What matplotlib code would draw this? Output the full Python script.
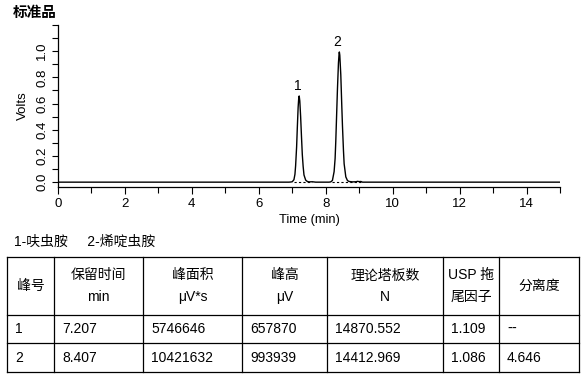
import matplotlib
matplotlib.use("Agg")
import matplotlib.pyplot as plt
from matplotlib.ticker import MultipleLocator

plt.rcParams["font.family"] = ["Liberation Sans", "Noto Sans CJK SC"]

# chromatogram trace (min, V)
time_min = [0.0, 6.9, 6.95, 7.0, 7.05, 7.08, 7.1, 7.13, 7.15, 7.175, 7.19, 7.207,
            7.225, 7.25, 7.275, 7.3, 7.325, 7.35, 7.4, 7.45, 7.5, 7.6, 7.7,
            8.1, 8.15, 8.2, 8.25, 8.28, 8.3, 8.33, 8.35, 8.38, 8.4, 8.407, 8.42,
            8.45, 8.48, 8.5, 8.53, 8.55, 8.6, 8.65, 8.7, 8.8, 8.9, 8.95, 9.0,
            9.05, 9.1, 15.0]
volts = [0.0, 0.0, 0.001, 0.003, 0.019, 0.06, 0.125, 0.27, 0.41, 0.57, 0.63, 0.658,
         0.62, 0.50, 0.35, 0.21, 0.12, 0.055, 0.016, 0.005, 0.002, 0.003, 0.0,
         0.0, 0.002, 0.013, 0.08, 0.18, 0.31, 0.55, 0.71, 0.91, 0.985, 0.994, 0.97,
         0.82, 0.58, 0.43, 0.24, 0.14, 0.04, 0.012, 0.005, 0.002, 0.003, 0.006, 0.004,
         0.005, 0.0, 0.0]

# integration baselines (min)
baseline_segments = [(7.05, 7.58), (8.18, 9.07)]

peak_labels = ["1", "2"]
peak_times = [7.207, 8.407]
peak_heights = [0.658, 0.994]

compounds = "1-呋虫胺     2-烯啶虫胺"

headers = ["峰号", "保留时间\nmin", "峰面积\nμV*s", "峰高\nμV",
           "理论塔板数\nN", "USP 拖\n尾因子", "分离度"]
rows = [
    ["1", "7.207", "5746646", "657870", "14870.552", "1.109", "--"],
    ["2", "8.407", "10421632", "993939", "14412.969", "1.086", "4.646"],
]

W, H = 588, 380
fig = plt.figure(figsize=(W / 100, H / 100), dpi=100)

# ---- chromatogram ----
ax = fig.add_axes([58 / W, (H - 187) / H, (560 - 58) / W, (187 - 25) / H])
ax.plot(time_min, volts, color="black", lw=1.0)
for x0, x1 in baseline_segments:
    ax.plot([x0, x1], [0.0, 0.0], color="black", lw=0.8, ls=(0, (2, 2)))
for lab, t, h in zip(peak_labels, peak_times, peak_heights):
    ax.text(t - 0.05, h + 0.025, lab, ha="center", va="bottom", fontsize=10)

ax.set_xlim(0, 15)
ax.set_ylim(-0.037, 1.2)
for s in ["top", "right"]:
    ax.spines[s].set_visible(False)
ax.spines["left"].set_linewidth(0.9)
ax.spines["bottom"].set_linewidth(0.9)
ax.xaxis.set_major_locator(MultipleLocator(2))
ax.xaxis.set_minor_locator(MultipleLocator(1))
ax.yaxis.set_minor_locator(MultipleLocator(0.1))
ax.set_yticks([0.0, 0.2, 0.4, 0.6, 0.8, 1.0])
ax.set_yticklabels(["0.0", "0.2", "0.4", "0.6", "0.8", "1.0"], rotation=90, va="center")
ax.tick_params(axis="both", which="both", direction="out", width=0.8, labelsize=9.5)
ax.tick_params(axis="x", which="major", length=5, pad=3)
ax.tick_params(axis="x", which="minor", length=4)
ax.tick_params(axis="y", which="both", length=4, pad=3)
ax.set_xlabel("Time (min)", fontsize=9.3, labelpad=3)
ax.set_ylabel("Volts", fontsize=9.5, labelpad=5)

fig.text(13 / W, 1 - 13 / H, "标准品", fontsize=10.5, fontweight="bold", va="center")
fig.text(14 / W, 1 - 242 / H, compounds, fontsize=10, va="center")

# ---- table ----
col_edges = [7, 54, 143, 242, 327, 443, 499, 579]
row_edges = [257, 315, 343, 372]
tab = fig.add_axes([0, 0, 1, 1])
tab.set_xlim(0, W)
tab.set_ylim(H, 0)
tab.axis("off")
for x in col_edges:
    tab.plot([x, x], [row_edges[0], row_edges[-1]], color="black", lw=0.9)
for y in row_edges:
    tab.plot([col_edges[0], col_edges[-1]], [y, y], color="black", lw=0.9)

for i, text in enumerate(headers):
    cx = (col_edges[i] + col_edges[i + 1]) / 2
    cy = (row_edges[0] + row_edges[1]) / 2
    tab.text(cx, cy, text, ha="center", va="center", fontsize=10,
             linespacing=1.65)
for r, row in enumerate(rows):
    cy = (row_edges[r + 1] + row_edges[r + 2]) / 2
    for i, text in enumerate(row):
        fam = ["DejaVu Sans"] if text == "--" else None
        tab.text(col_edges[i] + 8, cy, text, ha="left", va="center",
                 fontsize=10, family=fam)

fig.savefig("out.png", dpi=100)
